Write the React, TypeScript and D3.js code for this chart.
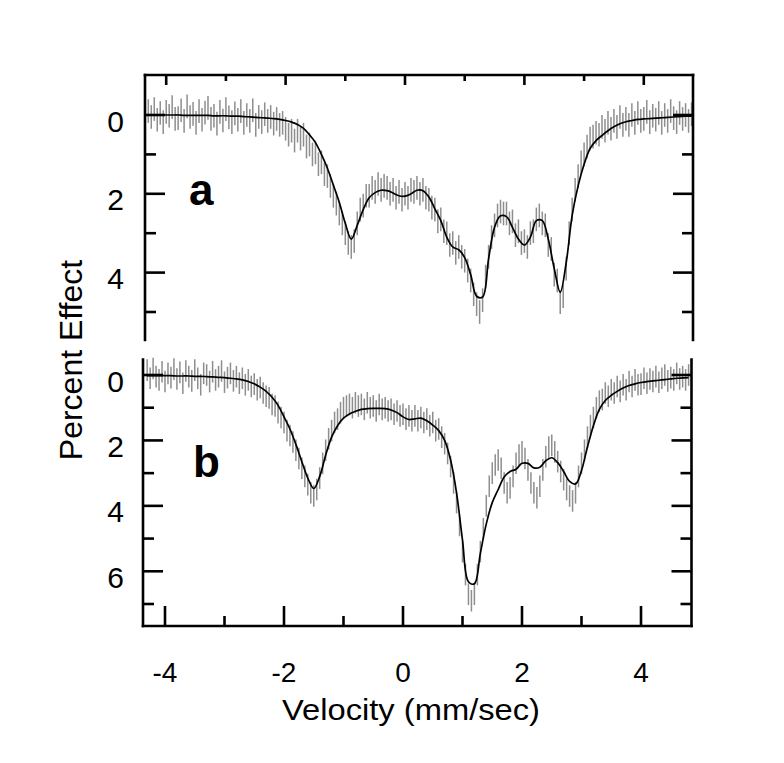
import React from "react";
import * as d3 from "d3";

// ---------- data ----------
// fitted curves, velocity grid -4.3 .. 4.8 mm/s, step 0.1
const FIT_START = -4.3;
const FIT_STEP = 0.1;
const fitA = [
  0.0, 0.0, 0.0, 0.0, 0.0, 0.0, 0.01, 0.01, 0.01, 0.01, 0.01, 0.02, 0.02,
  0.02, 0.03, 0.03, 0.04, 0.05, 0.06, 0.07, 0.08, 0.09, 0.11, 0.14, 0.18,
  0.24, 0.34, 0.5, 0.7, 1.0, 1.35, 1.78, 2.22, 2.75, 3.15, 2.8, 2.4, 2.1,
  1.97, 1.91, 1.92, 1.98, 2.05, 2.06, 2.0, 1.91, 1.92, 2.08, 2.38, 2.68,
  3.1, 3.35, 3.42, 3.62, 4.05, 4.6, 4.62, 3.65, 2.85, 2.56, 2.58, 2.85,
  3.15, 3.3, 3.1, 2.68, 2.68, 3.15, 3.9, 4.5, 3.75, 2.55, 1.8, 1.25, 0.85,
  0.65, 0.52, 0.4, 0.3, 0.22, 0.17, 0.14, 0.11, 0.1, 0.09, 0.08, 0.07, 0.06,
  0.05, 0.04, 0.03, 0.03,
];
const fitB = [
  0.02, 0.02, 0.02, 0.02, 0.02, 0.03, 0.03, 0.03, 0.04, 0.04, 0.05, 0.06,
  0.07, 0.08, 0.1, 0.12, 0.15, 0.2, 0.27, 0.37, 0.5, 0.68, 0.93, 1.28, 1.65,
  2.12, 2.65, 3.15, 3.47, 3.1, 2.45, 1.9, 1.55, 1.32, 1.19, 1.11, 1.05, 1.03,
  1.02, 1.02, 1.03, 1.07, 1.15, 1.28, 1.36, 1.34, 1.32, 1.4, 1.53, 1.7, 2.0,
  2.6, 3.6, 5.05, 6.32, 6.38, 5.45, 4.55, 3.9, 3.5, 3.12, 2.95, 2.88, 2.7,
  2.7, 2.84, 2.82, 2.62, 2.53, 2.68, 2.95, 3.25, 3.33, 2.92, 2.2, 1.55, 1.05,
  0.78, 0.62, 0.5, 0.4, 0.32, 0.27, 0.23, 0.2, 0.18, 0.16, 0.14, 0.12, 0.1,
  0.09, 0.08,
];

// measured spectra, velocity grid -4.3 .. 4.8 mm/s, step 0.05
const DATA_START = -4.3;
const DATA_STEP = 0.05;
const dataA = [
  -0.1, 0.05, -0.15, 0.12, -0.05, 0.18, -0.08, 0.02, -0.2, 0.1,
  0.08, -0.12, 0.15, -0.22, 0.05, -0.03, 0.2, -0.1, 0.12, -0.06,
  -0.18, 0.1, 0.02, 0.22, -0.08, 0.14, -0.15, 0.06, 0.18, -0.04,
  0.12, -0.1, 0.2, 0.0, 0.15, -0.12, 0.25, 0.05, 0.18, -0.02,
  0.15, 0.05, 0.22, 0.1, 0.25, 0.2, 0.35, 0.5, 0.4, 0.65,
  0.4, 0.6, 0.5, 0.8, 0.75, 1.0, 0.95, 1.25, 1.2, 1.5,
  1.55, 1.8, 2.05, 2.25, 2.5, 2.75, 3.0, 3.25, 3.35, 3.2,
  2.75, 2.4, 2.3, 2.05, 2.05, 1.85, 1.95, 1.75, 1.9, 1.8,
  1.85, 2.0, 1.9, 2.1, 1.95, 2.15, 2.0, 2.1, 1.9, 1.95,
  1.85, 2.0, 1.9, 2.1, 2.15, 2.35, 2.4, 2.7, 2.65, 2.95,
  3.0, 3.3, 3.25, 3.5, 3.35, 3.6, 3.7, 3.95, 4.2, 4.55,
  4.8, 5.0, 4.7, 4.1, 3.6, 3.1, 2.8, 2.55, 2.45, 2.5,
  2.5, 2.75, 2.7, 3.05, 2.95, 3.25, 3.2, 3.35, 3.0, 2.95,
  2.65, 2.55, 2.75, 2.8, 3.3, 3.4, 4.05, 4.2, 4.75, 4.6,
  3.9, 3.0, 2.4, 1.9, 1.55, 1.2, 1.0, 0.8, 0.6, 0.55,
  0.45, 0.5, 0.3, 0.4, 0.2, 0.35, 0.15, 0.3, 0.05, 0.25,
  0.1, 0.25, 0.0, 0.2, -0.05, 0.15, 0.1, -0.08, 0.18, 0.02,
  0.12, -0.05, 0.2, 0.0, 0.15, -0.1, 0.08, 0.18, -0.05, 0.1,
  0.0, 0.15, -0.02,
];
const dataB = [
  -0.15, 0.1, -0.2, 0.05, 0.15, -0.1, 0.2, -0.05, 0.08, -0.18,
  0.12, -0.08, 0.25, -0.12, 0.05, 0.18, -0.15, 0.1, 0.3, -0.05,
  0.0, 0.2, -0.1, 0.15, 0.05, -0.12, 0.22, 0.08, -0.05, 0.18,
  0.05, 0.25, 0.1, 0.3, 0.15, 0.35, 0.28, 0.45, 0.38, 0.55,
  0.65, 0.7, 0.9, 0.95, 1.15, 1.3, 1.45, 1.7, 1.85, 2.05,
  2.3, 2.55, 2.85, 3.1, 3.35, 3.6, 3.7, 3.5, 3.15, 2.7,
  2.3, 1.95, 1.7, 1.45, 1.35, 1.15, 1.0, 0.95, 0.9, 1.0,
  0.85, 0.95, 0.9, 1.05, 0.85, 1.0, 0.95, 1.1, 0.9, 1.05,
  1.0, 1.1, 1.05, 1.2, 1.1, 1.25, 1.2, 1.35, 1.25, 1.4,
  1.25, 1.4, 1.3, 1.45, 1.35, 1.55, 1.45, 1.7, 1.65, 1.9,
  2.1, 2.4, 2.8, 3.3, 3.9, 4.6, 5.4, 6.1, 6.7, 6.9,
  6.7, 6.1, 5.4, 4.7, 4.0, 3.4, 3.0, 2.75, 2.6, 2.85,
  3.3, 3.6, 3.45, 3.1, 2.7, 2.45, 2.35, 2.55, 2.9, 3.3,
  3.6, 3.75, 3.4, 2.9, 2.5, 2.2, 2.15, 2.35, 2.65, 2.95,
  3.2, 3.5, 3.7, 3.85, 3.6, 3.1, 2.7, 2.3, 1.9, 1.55,
  1.3, 1.0, 0.8, 0.75, 0.55, 0.65, 0.45, 0.55, 0.35, 0.5,
  0.3, 0.45, 0.2, 0.35, 0.15, 0.3, 0.28, 0.1, 0.25, 0.12,
  0.2, 0.05, 0.22, 0.1, 0.0, 0.18, 0.08, 0.15, -0.05, 0.12,
  0.05, 0.15, 0.0,
];
const errA = 0.3;
const errB = 0.33;

const xTicks = [-4, -3, -2, -1, 0, 1, 2, 3, 4];
const xTickLabels = [-4, -2, 0, 2, 4];
const yTicksA = [0, 1, 2, 3, 4, 5];
const yLabelsA = [0, 2, 4];
const yTicksB = [0, 1, 2, 3, 4, 5, 6, 7];
const yLabelsB = [0, 2, 4, 6];

const FONT = "'Liberation Sans', Arial, Helvetica, sans-serif";

// ---------- scales ----------
const xA = d3.scaleLinear().domain([-4, 4]).range([166.2, 643.8]);
const xB = d3.scaleLinear().domain([-4, 4]).range([165, 641]);
const yA = d3.scaleLinear().domain([0, 5]).range([115, 312]);
const yB = d3.scaleLinear().domain([0, 7]).range([375, 604]);

const frameA = { left: 145, right: 693, top: 75, bottom: 340 };
const frameB = { left: 143, right: 691.5, top: 359.5, bottom: 626 };

const AXIS_W = 2.6;
const MAJOR = 20;
const MINOR = 10;

function toPoints(vals: number[], start: number, step: number) {
  return vals.map((v, i) => ({ v: start + i * step, p: v }));
}

function Panel(props: {
  fit: number[];
  data: number[];
  err: number;
  x: d3.ScaleLinear<number, number>;
  y: d3.ScaleLinear<number, number>;
  frame: { left: number; right: number; top: number; bottom: number };
  yTicks: number[];
  yLabels: number[];
  bottomAxis: boolean;
  letter: string;
  letterPos: [number, number];
}) {
  const { fit, data, err, x, y, frame, yTicks, yLabels, bottomAxis } = props;
  const fitPts = toPoints(fit, FIT_START, FIT_STEP);
  const dataPts = toPoints(data, DATA_START, DATA_STEP);
  const line = d3
    .line<{ v: number; p: number }>()
    .x((d) => x(d.v))
    .y((d) => y(d.p))
    .curve(d3.curveCatmullRom.alpha(0.5));
  return (
    <g>
      {/* data error bars */}
      <g stroke="#8e8e8e" strokeWidth={1.5}>
        {dataPts.map((d, i) => (
          <line
            key={i}
            x1={x(d.v)}
            x2={x(d.v)}
            y1={y(d.p - err)}
            y2={y(d.p + err)}
          />
        ))}
      </g>
      <path d={line(fitPts) || ""} fill="none" stroke="#000" strokeWidth={1.7} />
      {/* frame */}
      <g stroke="#000" strokeWidth={AXIS_W} fill="none" strokeLinecap="square">
        <line x1={frame.left} x2={frame.left} y1={frame.top} y2={frame.bottom} />
        <line x1={frame.right} x2={frame.right} y1={frame.top} y2={frame.bottom} />
        {bottomAxis ? (
          <line x1={frame.left} x2={frame.right} y1={frame.bottom} y2={frame.bottom} />
        ) : (
          <line x1={frame.left} x2={frame.right} y1={frame.top} y2={frame.top} />
        )}
      </g>
      {/* y ticks */}
      <g stroke="#000" strokeWidth={AXIS_W}>
        {yTicks.map((t) => {
          const len = t % 2 === 0 ? MAJOR : MINOR + 1;
          return (
            <g key={t}>
              <line x1={frame.left} x2={frame.left + len} y1={y(t)} y2={y(t)} />
              <line x1={frame.right - len} x2={frame.right} y1={y(t)} y2={y(t)} />
            </g>
          );
        })}
      </g>
      {/* x ticks */}
      <g stroke="#000" strokeWidth={AXIS_W}>
        {xTicks.map((t) => {
          const major = t % 2 === 0;
          if (bottomAxis) {
            const len = major ? MAJOR : MINOR;
            return (
              <line key={t} x1={x(t)} x2={x(t)} y1={frame.bottom} y2={frame.bottom - len} />
            );
          }
          const len = major ? 10 : 6;
          return <line key={t} x1={x(t)} x2={x(t)} y1={frame.top} y2={frame.top + len} />;
        })}
      </g>
      {/* y labels */}
      <g fontFamily={FONT} fontSize={30} textAnchor="end" fill="#000">
        {yLabels.map((t) => (
          <text key={t} x={124} y={y(t) + 16.5}>
            {t}
          </text>
        ))}
      </g>
      <text
        x={props.letterPos[0]}
        y={props.letterPos[1]}
        fontFamily={FONT}
        fontSize={44}
        fontWeight="bold"
        fill="#000"
      >
        {props.letter}
      </text>
    </g>
  );
}

export default function App() {
  return (
    <svg
      width={784}
      height={763}
      viewBox="0 0 784 763"
      style={{ position: "absolute", left: 0, top: 0, display: "block", background: "#fff" }}
    >
      <rect x={0} y={0} width={784} height={763} fill="#fff" />
      <Panel
        fit={fitA}
        data={dataA}
        err={errA}
        x={xA}
        y={yA}
        frame={frameA}
        yTicks={yTicksA}
        yLabels={yLabelsA}
        bottomAxis={false}
        letter="a"
        letterPos={[189, 205]}
      />
      <Panel
        fit={fitB}
        data={dataB}
        err={errB}
        x={xB}
        y={yB}
        frame={frameB}
        yTicks={yTicksB}
        yLabels={yLabelsB}
        bottomAxis={true}
        letter="b"
        letterPos={[193, 477]}
      />
      <g fontFamily={FONT} fontSize={28} textAnchor="middle" fill="#000">
        {xTickLabels.map((t) => (
          <text key={t} x={xB(t)} y={681.5}>
            {t}
          </text>
        ))}
      </g>
      <text
        x={411}
        y={720}
        fontFamily={FONT}
        fontSize={30}
        textAnchor="middle"
        fill="#000"
        textLength={258}
        lengthAdjust="spacingAndGlyphs"
      >
        Velocity (mm/sec)
      </text>
      <text
        transform="translate(82,360) rotate(-90)"
        fontFamily={FONT}
        fontSize={32}
        textAnchor="middle"
        fill="#000"
      >
        Percent Effect
      </text>
    </svg>
  );
}
